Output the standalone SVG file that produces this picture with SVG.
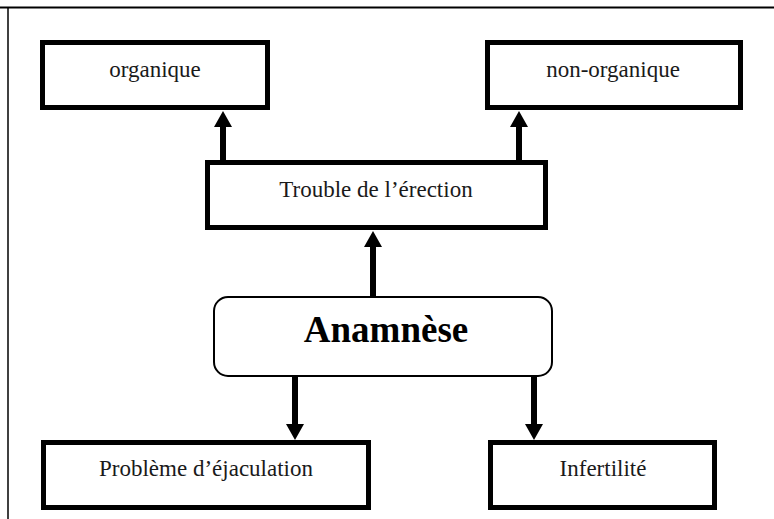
<svg xmlns="http://www.w3.org/2000/svg" width="774" height="519" viewBox="0 0 774 519">
<style>
.box{fill:#fff;stroke:#000;stroke-width:5}
.rbox{fill:#fff;stroke:#000;stroke-width:2}
.lbl{font-family:'Liberation Serif','DejaVu Serif',serif;font-size:23px;fill:#1a1a1a;text-anchor:middle}
.big{font-family:'Liberation Serif','DejaVu Serif',serif;font-size:37px;font-weight:bold;fill:#000;text-anchor:middle}
.con{stroke:#000;stroke-width:6;fill:none}
</style>
<defs>
<marker id="ah" markerUnits="userSpaceOnUse" markerWidth="16" markerHeight="18" refX="1" refY="9" orient="auto" viewBox="0 0 16 18">
<path d="M0,0 L16,9 L0,18 Z" fill="#000"/>
</marker>
</defs>
<g id="frame">
<line x1="0" y1="7.5" x2="774" y2="7.5" stroke="#000" stroke-width="2"/>
<line x1="8" y1="7" x2="8" y2="519" stroke="#000" stroke-width="1.5"/>
</g>
<g id="connectors">
<line class="con" x1="223" y1="160" x2="223" y2="126" marker-end="url(#ah)"/>
<line class="con" x1="519" y1="160" x2="519" y2="126" marker-end="url(#ah)"/>
<line class="con" x1="373" y1="296" x2="373" y2="246" marker-end="url(#ah)"/>
<line class="con" x1="295" y1="377" x2="295" y2="425" marker-end="url(#ah)"/>
<line class="con" x1="534" y1="377" x2="534" y2="425" marker-end="url(#ah)"/>
</g>
<g id="organique">
<rect class="box" x="42.5" y="42.5" width="225" height="65"/>
<text class="lbl" x="155" y="77">organique</text>
</g>
<g id="non-organique">
<rect class="box" x="487.5" y="42.5" width="253" height="65"/>
<text class="lbl" x="613" y="77">non-organique</text>
</g>
<g id="trouble">
<rect class="box" x="207.5" y="162.5" width="338" height="65"/>
<text class="lbl" x="376" y="197">Trouble de l’érection</text>
</g>
<g id="anamnese">
<rect class="rbox" x="214" y="297" width="338" height="79" rx="14" ry="14"/>
<text class="big" x="386" y="342">Anamnèse</text>
</g>
<g id="ejaculation">
<rect class="box" x="43.5" y="442.5" width="325" height="65"/>
<text class="lbl" x="206" y="476">Problème d’éjaculation</text>
</g>
<g id="infertilite">
<rect class="box" x="490.5" y="442.5" width="224" height="65"/>
<text class="lbl" x="603" y="476">Infertilité</text>
</g>
</svg>
